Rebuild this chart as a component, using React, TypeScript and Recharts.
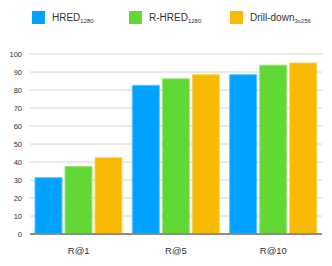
import React from "react";
import { BarChart, Bar, XAxis, YAxis, CartesianGrid, Legend } from "recharts";

/* ── Data ─────────────────────────────────────────────────────── */

const categories = ["R@1", "R@5", "R@10"];
const hred1280 = [31.3, 82.6, 88.5];
const rHred1280 = [37.5, 86.2, 93.8];
const drillDown3x256 = [42.4, 88.5, 95];
const yTicks = [0, 10, 20, 30, 40, 50, 60, 70, 80, 90, 100];

const series = [
  { key: "hred", name: "HRED", sub: "1280", fill: "#00A2FF", stroke: "#5CC2FF" },
  { key: "rhred", name: "R-HRED", sub: "1280", fill: "#61D836", stroke: "#98E67A" },
  { key: "drill", name: "Drill-down", sub: "3x256", fill: "#F8BA00", stroke: "#FBD25A" },
];

const data = categories.map((c, i) => ({
  cat: c,
  hred: hred1280[i],
  rhred: rHred1280[i],
  drill: drillDown3x256[i],
}));

const FONT = "'Liberation Sans', Arial, Helvetica, sans-serif";

/* ── Legend ───────────────────────────────────────────────────── */

const legendX = [32, 129, 230];

function renderLegend() {
  return (
    <div style={{ position: "relative", height: 14, fontFamily: FONT }}>
      {series.map((s, i) => (
        <div
          key={s.key}
          style={{
            position: "absolute",
            left: legendX[i],
            top: 0,
            display: "flex",
            alignItems: "center",
            whiteSpace: "nowrap",
          }}
        >
          <span
            style={{
              display: "inline-block",
              width: 13,
              height: 13,
              background: s.fill,
              marginRight: 7,
            }}
          />
          <span style={{ fontSize: 10, color: "#333" }}>
            {s.name}
            <sub style={{ fontSize: 6, verticalAlign: "-2px" }}>{s.sub}</sub>
          </span>
        </div>
      ))}
    </div>
  );
}

/* ── Component ────────────────────────────────────────────────── */

export default function App() {
  return (
    <div style={{ position: "absolute", left: 0, top: 0, width: 332, height: 266, background: "#fff" }}>
      <BarChart
        width={332}
        height={266}
        data={data}
        margin={{ top: 40, right: 10, bottom: 2, left: 0 }}
        barCategoryGap={5}
        barGap={3}
      >
        <CartesianGrid vertical={false} stroke="#d4d4d4" strokeWidth={1} />
        <XAxis
          dataKey="cat"
          height={30}
          tickLine={false}
          axisLine={{ stroke: "#8c8c8c", strokeWidth: 2 }}
          tick={{ fontSize: 9.5, fill: "#333", fontFamily: FONT }}
          tickMargin={7}
        />
        <YAxis
          width={30}
          domain={[0, 100]}
          ticks={yTicks}
          interval={0}
          axisLine={false}
          tickLine={false}
          tick={{ fontSize: 7.5, fill: "#333", fontFamily: FONT }}
        />
        <Legend
          verticalAlign="top"
          align="left"
          content={renderLegend}
          wrapperStyle={{ top: 11, left: 0, width: 332 }}
        />
        {series.map((s) => (
          <Bar
            key={s.key}
            dataKey={s.key}
            name={s.name}
            fill={s.fill}
            stroke={s.stroke}
            strokeWidth={1}
            isAnimationActive={false}
          />
        ))}
      </BarChart>
    </div>
  );
}
